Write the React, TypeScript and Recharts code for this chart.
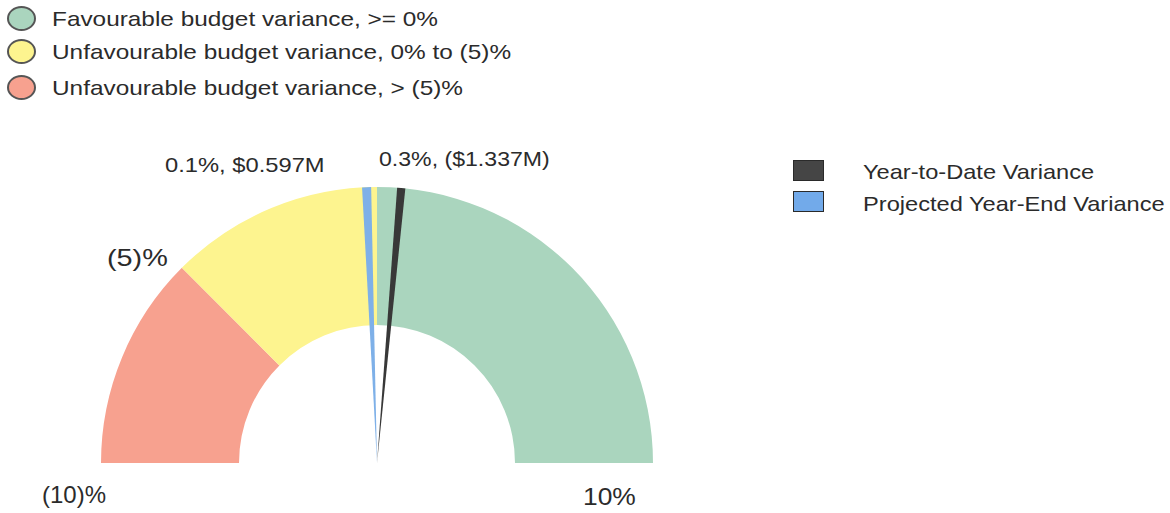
import { Cell, Pie, PieChart } from "recharts";

const GAUGE_MIN = -10;
const GAUGE_MAX = 10;

// gauge bands, left to right
const bandNames = [
  "Unfavourable budget variance, > (5)%",
  "Unfavourable budget variance, 0% to (5)%",
  "Favourable budget variance, >= 0%",
];
const bandFrom = [-10, -5, 0];
const bandTo = [-5, 0, 10];
const bandColors = ["#f7a18f", "#fdf48f", "#aad5be"];

// needles, position read on the gauge scale
const needleNames = ["Year-to-Date Variance", "Projected Year-End Variance"];
const needleAt = [0.56, -0.24];
const needleWidth = [0.19, 0.21];
const needleColors = ["#383838", "#7eb0e8"];
const needleLabels = ["0.3%, ($1.337M)", "0.1%, $0.597M"];

const tickLabels = ["(10)%", "(5)%", "10%"];

const W = 1170;
const H = 513;
const CX = 377;
const CY = 463;
const R_OUT = 276;
const R_IN = 138;

const font = '"Liberation Sans", Arial, sans-serif';
const ink = "#2b2b2b";

// the source text renders a little wide, hence the sx stretch
function Txt({ x, y, size, sx, children }: { x: number; y: number; size: number; sx: number; children: string }) {
  return (
    <div
      style={{
        position: "absolute",
        left: x,
        top: y,
        transform: `translateY(-50%) scaleX(${sx})`,
        transformOrigin: "left center",
        fontSize: size,
        lineHeight: 1,
        whiteSpace: "nowrap",
        color: ink,
      }}
    >
      {children}
    </div>
  );
}

export default function App() {
  const bands = bandNames.map((name, i) => ({ name, value: bandTo[i] - bandFrom[i] }));
  const needles = needleNames.map((name, i) => [
    { name: "pre", value: needleAt[i] - needleWidth[i] / 2 - GAUGE_MIN },
    { name, value: needleWidth[i] },
    { name: "post", value: GAUGE_MAX - needleAt[i] - needleWidth[i] / 2 },
  ]);

  // top legend lists favourable first
  const legendOrder = [2, 1, 0];
  const legendY = [18, 51, 87];

  return (
    <div style={{ position: "absolute", left: 0, top: 0, width: W, height: H, fontFamily: font, background: "#fff" }}>
      <PieChart width={W} height={H} margin={{ top: 0, right: 0, bottom: 0, left: 0 }}>
        <Pie
          data={bands}
          dataKey="value"
          cx={CX}
          cy={CY}
          startAngle={180}
          endAngle={0}
          innerRadius={R_IN}
          outerRadius={R_OUT}
          stroke="none"
          isAnimationActive={false}
        >
          {bands.map((b, i) => (
            <Cell key={b.name} fill={bandColors[i]} />
          ))}
        </Pie>
        {/* projected drawn first, ytd on top */}
        {[1, 0].map((n) => (
          <Pie
            key={needleNames[n]}
            data={needles[n]}
            dataKey="value"
            cx={CX}
            cy={CY}
            startAngle={180}
            endAngle={0}
            innerRadius={0}
            outerRadius={R_OUT}
            stroke="none"
            isAnimationActive={false}
          >
            {needles[n].map((d, i) => (
              <Cell key={i} fill={i === 1 ? needleColors[n] : "transparent"} />
            ))}
          </Pie>
        ))}
      </PieChart>

      {legendOrder.map((b, k) => (
        <div key={bandNames[b]}>
          <div
            style={{
              position: "absolute",
              left: 7,
              top: legendY[k] - 12,
              width: 25,
              height: 21,
              borderRadius: "50%",
              border: "2px solid #555",
              background: bandColors[b],
            }}
          />
          <Txt x={52} y={legendY[k]} size={21} sx={1.16}>
            {bandNames[b]}
          </Txt>
        </div>
      ))}

      {needleNames.map((name, i) => (
        <div key={name}>
          <div
            style={{
              position: "absolute",
              left: 793,
              top: [160, 191][i],
              width: 29,
              height: 19,
              border: "1.5px solid #2a2a2a",
              background: i === 0 ? "#454545" : "#72aaea",
            }}
          />
          <Txt x={863} y={[171, 203][i]} size={21} sx={1.125}>
            {name}
          </Txt>
        </div>
      ))}

      <Txt x={379} y={158} size={21} sx={1.1}>
        {needleLabels[0]}
      </Txt>
      <Txt x={165} y={164} size={21} sx={1.13}>
        {needleLabels[1]}
      </Txt>

      <Txt x={42} y={495} size={24} sx={1.0}>
        {tickLabels[0]}
      </Txt>
      <Txt x={107} y={258} size={24} sx={1.2}>
        {tickLabels[1]}
      </Txt>
      <Txt x={583} y={497} size={24} sx={1.1}>
        {tickLabels[2]}
      </Txt>
    </div>
  );
}
